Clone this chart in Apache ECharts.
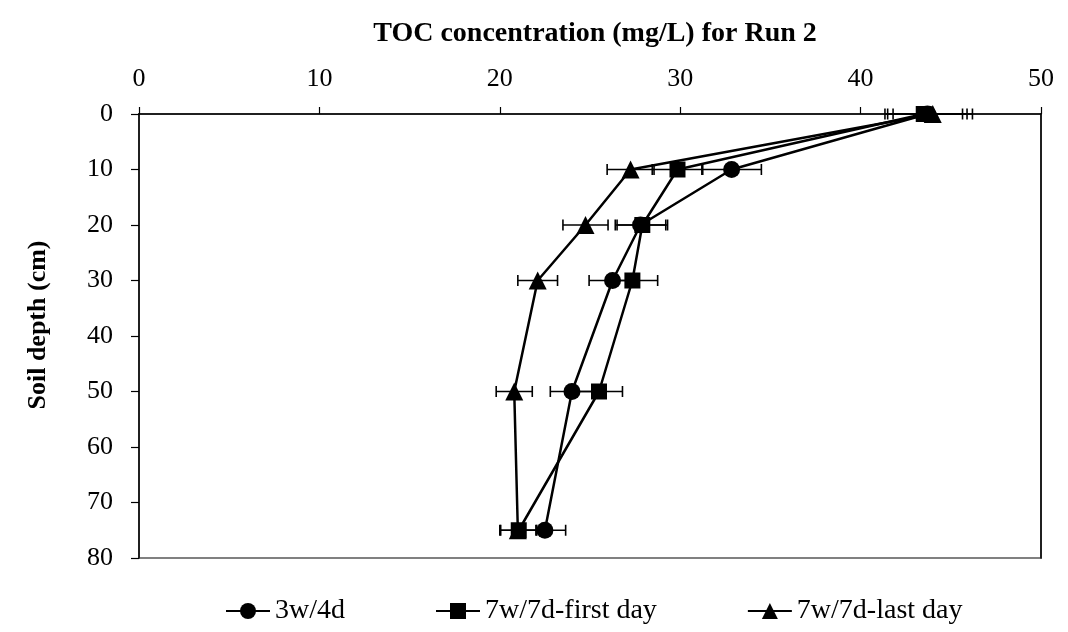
<!DOCTYPE html>
<html>
<head>
<meta charset="utf-8">
<script src="https://cdn.jsdelivr.net/npm/echarts@6/dist/echarts.min.js"></script>
<style>
  html, body { margin: 0; padding: 0; background: #fff; }
  #chart { width: 1068px; height: 632px; }
</style>
</head>
<body>
<div id="chart"></div>
<script>
// Soil depth (cm) at each sampling port
const depths = [0, 10, 20, 30, 50, 75];

// TOC concentration (mg/L) per run condition
const toc3w4d = [43.7, 32.85, 27.8, 26.25, 24.0, 22.5];
const toc7wFirst = [43.5, 29.85, 27.9, 27.35, 25.5, 21.05];
const toc7wLast = [44.0, 27.25, 24.75, 22.1, 20.8, 21.0];

// Standard deviations (mg/L)
const err3w4d = [2.2, 1.65, 1.4, 1.3, 1.2, 1.15];
const err7wFirst = [2.15, 1.4, 1.4, 1.4, 1.3, 1.0];
const err7wLast = [2.2, 1.3, 1.25, 1.1, 1.0, 1.0];

const seriesNames = ['3w/4d', '7w/7d-first day', '7w/7d-last day'];
const xTicks = [0, 10, 20, 30, 40, 50];
const yTicks = [0, 10, 20, 30, 40, 50, 60, 70, 80];

const FONT = '"Liberation Serif", "Times New Roman", serif';

function pairs(xs) {
  return xs.map((v, i) => [v, depths[i]]);
}
function errTriples(xs, es) {
  return xs.map((v, i) => [v, depths[i], es[i]]);
}

// Horizontal error bar with end caps
function renderErr(params, api) {
  const x = api.value(0), y = api.value(1), e = api.value(2);
  const p1 = api.coord([x - e, y]);
  const p2 = api.coord([x + e, y]);
  const cap = 5.5;
  const style = { stroke: '#000', lineWidth: 1.6 };
  return {
    type: 'group',
    children: [
      { type: 'line', shape: { x1: p1[0], y1: p1[1], x2: p2[0], y2: p2[1] }, style },
      { type: 'line', shape: { x1: p1[0], y1: p1[1] - cap, x2: p1[0], y2: p1[1] + cap }, style },
      { type: 'line', shape: { x1: p2[0], y1: p2[1] - cap, x2: p2[0], y2: p2[1] + cap }, style }
    ]
  };
}

function lineSeries(name, xs, symbol, size) {
  return {
    name, type: 'line', data: pairs(xs),
    symbol, symbolSize: size,
    lineStyle: { color: '#000', width: 2.5 },
    itemStyle: { color: '#000', borderWidth: 0 },
    z: 3, animation: false
  };
}
function errSeries(xs, es) {
  return {
    type: 'custom', data: errTriples(xs, es), renderItem: renderErr,
    z: 2, silent: true, animation: false
  };
}

const chart = echarts.init(document.getElementById('chart'), null, { renderer: 'canvas' });
chart.setOption({
  backgroundColor: '#fff',
  animation: false,
  textStyle: { fontFamily: FONT, color: '#000' },
  title: {
    text: 'TOC concentration (mg/L) for Run 2',
    left: 590, textAlign: 'center', top: 15,
    textStyle: { fontFamily: FONT, fontWeight: 'bold', fontSize: 28, color: '#000' }
  },
  legend: {
    data: seriesNames,
    bottom: 2, left: 220,
    itemWidth: 44, itemHeight: 20, itemGap: 90,
    textStyle: { fontFamily: FONT, fontSize: 28, color: '#000' }
  },
  // y-axis caption, centred on the chart area
  graphic: [{
    type: 'text', x: 38, y: 325, rotation: Math.PI / 2,
    style: {
      text: 'Soil depth (cm)', fill: '#000',
      font: 'bold 26px ' + FONT, align: 'center', verticalAlign: 'middle'
    }
  }],
  grid: {
    left: 139, top: 114, width: 902, height: 444,
    show: true, borderColor: '#808080', borderWidth: 2, backgroundColor: '#fff'
  },
  xAxis: {
    type: 'value', position: 'top',
    min: xTicks[0], max: xTicks[xTicks.length - 1], interval: 10,
    axisLine: { show: true, lineStyle: { color: '#000', width: 1.5 } },
    axisTick: { show: true, length: 7, lineStyle: { color: '#000', width: 1.2 } },
    axisLabel: { fontFamily: FONT, fontSize: 26, color: '#000', margin: 22 },
    splitLine: { show: false }
  },
  yAxis: [{
    type: 'value', inverse: true,
    min: yTicks[0], max: yTicks[yTicks.length - 1], interval: 10,
    axisLine: { show: true, lineStyle: { color: '#000', width: 1.5 } },
    axisTick: { show: true, length: 8, lineStyle: { color: '#000', width: 1.2 } },
    axisLabel: { fontFamily: FONT, fontSize: 26, color: '#000', margin: 26 },
    splitLine: { show: false }
  }, {
    type: 'value', inverse: true, position: 'right',
    min: yTicks[0], max: yTicks[yTicks.length - 1], interval: 10,
    axisLine: { show: true, lineStyle: { color: '#000', width: 1.5 } },
    axisTick: { show: false }, axisLabel: { show: false }, splitLine: { show: false }
  }],
  series: [
    errSeries(toc3w4d, err3w4d),
    errSeries(toc7wFirst, err7wFirst),
    errSeries(toc7wLast, err7wLast),
    lineSeries(seriesNames[0], toc3w4d, 'circle', 17),
    lineSeries(seriesNames[1], toc7wFirst, 'rect', 16),
    lineSeries(seriesNames[2], toc7wLast, 'triangle', 18)
  ]
});
</script>
</body>
</html>
